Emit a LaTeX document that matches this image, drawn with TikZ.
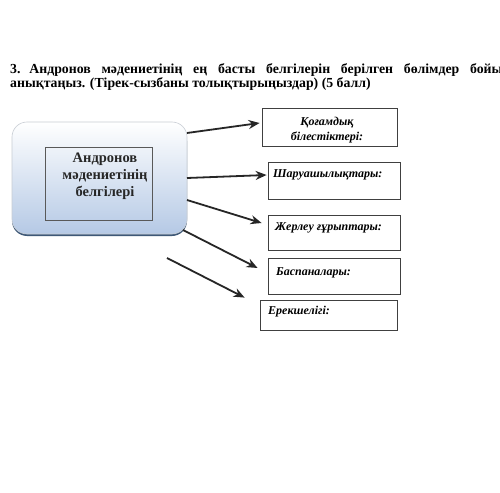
\documentclass[tikz,border=0pt]{standalone}
\usepackage{fontspec}
\setmainfont{Liberation Serif}
\usetikzlibrary{arrows.meta,calc}
\definecolor{boxtop}{HTML}{FFFFFF}
\definecolor{boxbot}{HTML}{B5C9E5}
\definecolor{boxshadow}{HTML}{3E5877}
\definecolor{boxedge}{HTML}{C8CDD4}
\tikzset{
  ansbox/.style={draw=black!75, line width=0.8pt, inner sep=0pt},
  anslbl/.style={font=\fontsize{12}{14}\selectfont\bfseries\itshape, inner sep=0pt},
  arr/.style={-{Stealth[length=11pt,width=9pt]}, line width=1.8pt, black!85},
  titletxt/.style={font=\fontsize{13.8}{14}\selectfont\bfseries, inner sep=0pt, anchor=base west}
}
\begin{document}
\begin{tikzpicture}[x=1pt,y=-1pt]
\useasboundingbox[fill=white] (0,0) rectangle (500,492);
% title
\node[titletxt] (t1) at (10,74) {\spaceskip=10.7pt plus 1pt 3.\hspace{-3pt} Андронов мәдениетінің ең басты белгілерін берілген бөлімдер бойынша};
\node[titletxt] (t2) at (10,88) {анықтаңыз. (Тірек-сызбаны толықтырыңыздар) (5 балл)};
% main rounded box
\fill[boxshadow, rounded corners=15pt] (12,126) rectangle (187,236);
\shade[top color=boxtop, bottom color=boxbot, draw=boxedge, line width=0.6pt, rounded corners=15pt] (12,122) rectangle (187,234);
\node[draw=black!65, line width=0.7pt, minimum width=107pt, minimum height=73pt, inner sep=0pt] (inner) at (98.5,183.5) {};
\node[font=\fontsize{14.5}{17}\selectfont\bfseries, align=center, inner sep=0pt, black!85] (mt) at (105,176) {Андронов\\мәдениетінің\\белгілері};
\coordinate (m) at (187,122);
\coordinate (mse) at (187,234);
% answer boxes
\node[ansbox, minimum width=135pt, minimum height=38pt] (b1) at (329.5,127) {};
\node[ansbox, minimum width=132pt, minimum height=37pt] (b2) at (334,180.5) {};
\node[ansbox, minimum width=132pt, minimum height=35pt] (b3) at (334,232.5) {};
\node[ansbox, minimum width=132pt, minimum height=36pt] (b4) at (334,276) {};
\node[ansbox, minimum width=137pt, minimum height=30pt] (b5) at (328.5,315) {};
% labels
\node[anslbl, align=center, font=\fontsize{12}{15}\selectfont\bfseries\itshape] (l1) at (327,130.5) {Қоғамдық\\білестіктері:};
\node[anslbl, anchor=west] (l2) at (273,175) {Шаруашылықтары:};
\node[anslbl, anchor=west] (l3) at (275,228) {Жерлеу ғұрыптары:};
\node[anslbl, anchor=west] (l4) at (276,273) {Баспаналары:};
\node[anslbl, anchor=west] (l5) at (268,312) {Ерекшелігі:};
% arrows
\coordinate (f5) at (167,258);
\draw[arr] (m |- 0,133) -- ($(b1.west |- 0,123)+(-2,0)$);
\draw[arr] (m |- 0,178) -- ($(b2.west |- 0,175)+(-1,0)$);
\draw[arr] (m |- 0,200) -- ($(b3.west |- 0,223)+(-6,0)$);
\draw[arr] ($(mse)+(-4,-4)$) -- ($(b4.west)+(-10,-8)$);
\draw[arr] (f5) -- ($(b5.north west)+(-15,-2)$);
\end{tikzpicture}
\end{document}
